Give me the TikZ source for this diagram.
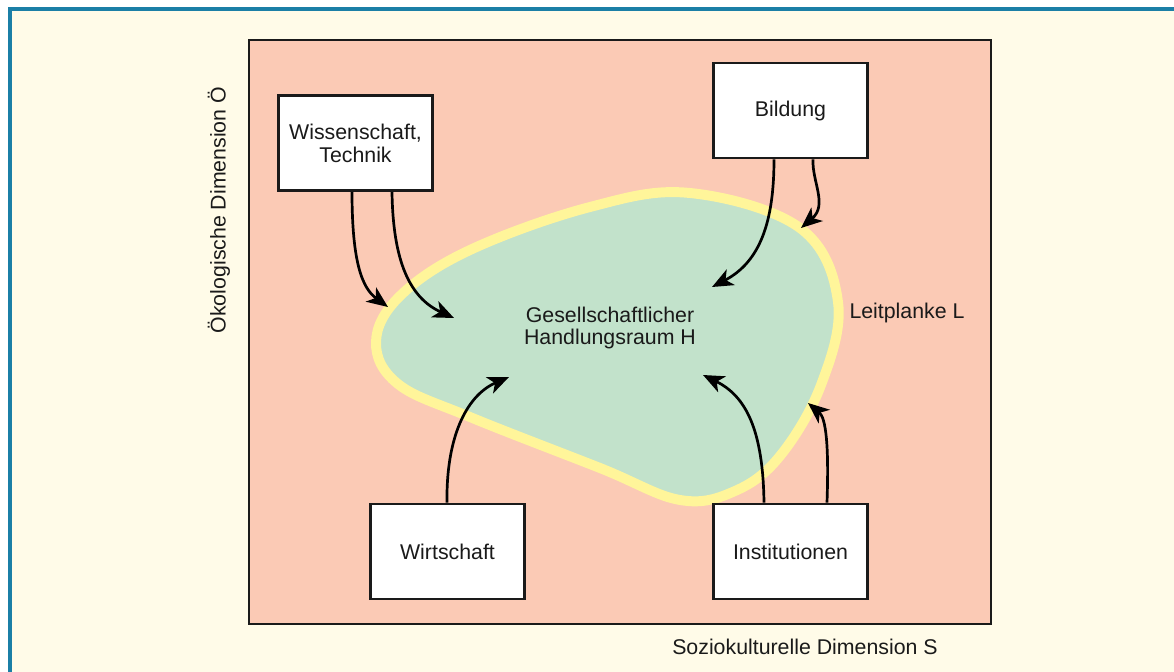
\documentclass[tikz,border=0pt]{standalone}
\usepackage{fontspec}
\setmainfont{Liberation Sans}
\usetikzlibrary{arrows.meta,calc}
\definecolor{frameblue}{HTML}{1B7FA6}
\definecolor{cream}{HTML}{FFFBE8}
\definecolor{salmon}{HTML}{FBCAB5}
\definecolor{blobgreen}{HTML}{C2E2CB}
\definecolor{rimyellow}{HTML}{FFF59A}
\definecolor{ink}{HTML}{1A1A1A}
\tikzset{
  box/.style={draw=ink,fill=white,line width=2.4pt,minimum width=4.6cm,minimum height=2.85cm,align=center,inner sep=0pt,text=ink},
  lbl/.style={text=ink,align=center,inner sep=0pt},
  flow/.style={line width=2.3pt,draw=black,-{Stealth[length=18pt,width=15pt,inset=5pt]}}
}
\begin{document}
\begin{tikzpicture}[x=0.03cm,y=-0.03cm,font=\fontsize{18.2}{19.5}\selectfont]
\useasboundingbox (0,0) rectangle (1174,672);
\fill[white] (0,0) rectangle (1174,672);
\fill[cream] (10,9) rectangle (1174,672);
\draw[frameblue,line width=3.4pt] (8,9) -- (1174,9);
\draw[frameblue,line width=3.4pt] (10,7) -- (10,672);
\draw[ink,fill=salmon,line width=2.4pt] (249,40) rectangle (991,624);
% blob
\draw[rimyellow,fill=blobgreen,line width=8.5pt]
  plot[smooth cycle,tension=0.62] coordinates {
   (376,342) (400,296) (470,250) (590,207) (690,193)
   (800,228) (838,302) (821,385) (780,456)
   (735,491) (680,500) (600,468) (470,417) (398,384)};
% boxes
\node[box] (wt) at (355.5,143) {Wissenschaft,\\Technik};
\node[box] (bi) at (790.5,110.5) {Bildung};
\node[box] (wi) at (447.5,551.5) {Wirtschaft};
\node[box] (in) at (790.5,551.5) {Institutionen};
% labels
\node[lbl] (h) at (610,328) {Gesellschaftlicher\\Handlungsraum H};
\node[lbl] (l) at (907,313) {Leitplanke L};
\node[lbl,rotate=90] (oe) at (219,210) {Ökologische Dimension Ö};
\node[lbl] (s) at (805,647) {Soziokulturelle Dimension S};
% arrow targets
\coordinate (t1) at (388,307);
\coordinate (t2) at (454,318);
\coordinate (t3) at (712,287);
\coordinate (t4) at (801,228);
\coordinate (t5) at (509,377);
\coordinate (t6) at (703,375);
\coordinate (t7) at (808,403);
% arrows
\draw[flow] ($(wt.south)+(-3.5,0)$) .. controls (352,262) and (362,288) .. (t1);
\draw[flow] ($(wt.south)+(36.5,0)$) .. controls (393,262) and (410,298) .. (t2);
\draw[flow] ($(bi.south)+(-16.5,0)$) .. controls (774,222) and (760,262) .. (t3);
\draw[flow] ($(bi.south)+(22.5,0)$) .. controls (812,182) and (828,205) .. (t4);
\draw[flow] ($(wi.north)+(-0.5,0)$) .. controls (446,440) and (465,396) .. (t5);
\draw[flow] ($(in.north)+(-26.5,0)$) .. controls (763,430) and (746,396) .. (t6);
\draw[flow] ($(in.north)+(36.5,0)$) .. controls (829,445) and (826,418) .. (t7);
\end{tikzpicture}
\end{document}
